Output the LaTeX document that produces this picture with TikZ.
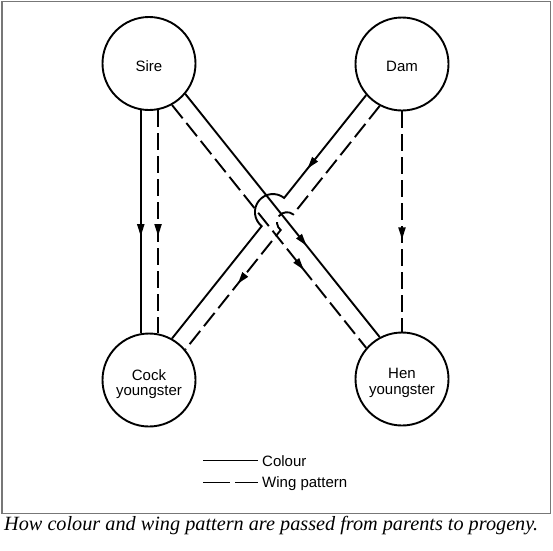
\documentclass[tikz,border=0pt]{standalone}
\usepackage{fontspec}
\usepackage{graphicx}
\setmainfont{Liberation Sans}
\newfontfamily\capfont{Liberation Serif}
\usetikzlibrary{decorations.markings,arrows.meta,calc}
\definecolor{framegray}{HTML}{777777}
\begin{document}
\begin{tikzpicture}[x=1pt,y=-1pt,
  sol/.style={line width=1.9pt},
  dsh/.style={line width=1.9pt,dash pattern=on 17pt off 6pt},
  arr/.style={postaction={decorate,decoration={markings,
      mark=at position #1 with {\arrow{Triangle[length=12pt,width=7pt]}}}}},
  bird/.style={circle,draw,line width=1.9pt,minimum size=93pt,inner sep=0pt},
  lbl/.style={align=center,inner sep=0pt,font=\fontsize{15}{15.5}\selectfont},
  legtext/.style={anchor=base west,inner sep=0pt,font=\fontsize{15}{16}\selectfont}]
\fill[white] (0,0) rectangle (553,550);
\useasboundingbox (0,0) rectangle (553,550);
\draw[framegray,line width=1.3pt] (2,1.5) rectangle (550.5,513.5);

\node[bird] (sire) at (149,63.5) {};
\node[bird] (dam)  at (402,64) {};
\node[bird] (cock) at (149,380) {};
\node[bird] (hen)  at (402,379) {};
\node[lbl] (sirelbl) at ($(sire)+(0,2.5)$) {Sire};
\node[lbl] (damlbl) at ($(dam)+(0,2)$) {Dam};
\node[lbl] (cocklbl) at ($(cock)+(0,4)$) {Cock\\youngster};
\node[lbl] (henlbl) at ($(hen)+(0,4)$) {Hen\\youngster};

% Sire to Cock
\draw[sol,arr=126pt] (sire.-100.5) -- (cock.100.5);
\draw[dsh,arr=126pt] (sire.-79.5) -- (cock.79.5);
% Dam to Hen
\draw[dsh,arr=128pt] (dam.-90) -- (hen.90);
% Sire to Hen
\draw[sol,arr=194pt] (sire.-40.7) -- (hen.118.5);
\draw[dsh,arr=211pt] (sire.-61.7) -- (hen.139.3);
% Dam to Cock, hopping over
\coordinate (hs) at ($(dam.-139.1)!0.4803!(cock.61.9)$);
\coordinate (hd) at ($(dam.-118.1)!0.4774!(cock.40.9)$);
\draw[sol,arr=94pt] (dam.-139.1) -- ($(hs)+(-51.44:18)$)
   arc[start angle=-51.44,end angle=-231.44,radius=18] -- (cock.61.9);
\draw[dsh,arr=239pt] (dam.-118.1) -- ($(hd)+(-51.44:10)$)
   arc[start angle=-51.44,end angle=-231.44,radius=10] -- (cock.40.9);

% legend
\coordinate (la1) at (203,460.5); \coordinate (la2) at (258,460.5);
\coordinate (lb1) at (203,482.5); \coordinate (lb2) at (258,482.5);
\draw[sol] (la1) -- (la2);
\draw[sol,dash pattern=on 27pt off 5pt] (lb1) -- (lb2);
\node[legtext] (colour) at (262,466.5) {Colour};
\node[legtext] (wing) at (262,487) {Wing pattern};

% caption
\node[anchor=base west,inner sep=0pt] (caption) at (4,530.5)
  {\resizebox{534pt}{!}{\capfont\itshape How colour and wing pattern are passed from parents to progeny.}};
\end{tikzpicture}
\end{document}
